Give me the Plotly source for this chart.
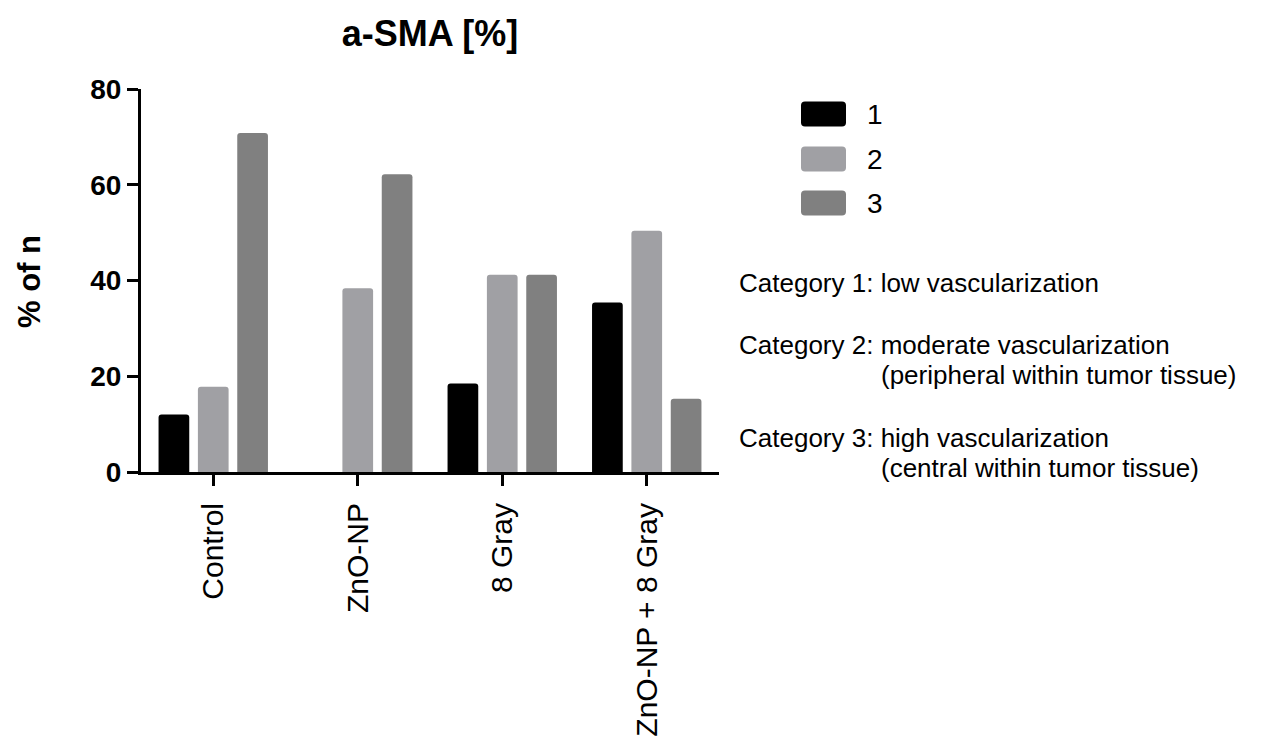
import plotly.graph_objects as go

# Treatment groups and percentage of samples per vascularization category
groups = ["Control", "ZnO-NP", "8 Gray", "ZnO-NP + 8 Gray"]
category_names = ["1", "2", "3"]
cat1_values = [12.0, 0.0, 18.5, 35.4]
cat2_values = [17.8, 38.4, 41.2, 50.4]
cat3_values = [70.8, 62.2, 41.2, 15.3]
series_colors = ["#000000", "#A0A0A4", "#808080"]
y_ticks = [0, 20, 40, 60, 80]

category_notes = [
    ("Category 1: ", "low vascularization", None),
    ("Category 2: ", "moderate vascularization", "(peripheral within tumor tissue)"),
    ("Category 3: ", "high vascularization", "(central within tumor tissue)"),
]

W, H = 1267, 754
L, R, T, B = 141, 548, 89, 282
PW, PH = W - L - R, H - T - B
FONT = "Arial, Liberation Sans, Helvetica, sans-serif"


def px(x):
    return (x - L) / PW


def py(y):
    return (H - B - y) / PH


def rounded_box(x0, y0, x1, y1, r=4):
    X0, X1 = px(x0), px(x1)
    Y0, Y1 = py(y1), py(y0)
    rx, ry = r / PW, r / PH
    return (f"M {X0+rx},{Y0} L {X1-rx},{Y0} Q {X1},{Y0} {X1},{Y0+ry} "
            f"L {X1},{Y1-ry} Q {X1},{Y1} {X1-rx},{Y1} L {X0+rx},{Y1} "
            f"Q {X0},{Y1} {X0},{Y1-ry} L {X0},{Y0+ry} Q {X0},{Y0} {X0+rx},{Y0} Z")


fig = go.Figure()
for name, vals, col in zip(category_names, [cat1_values, cat2_values, cat3_values], series_colors):
    fig.add_trace(go.Bar(
        x=groups, y=vals, name=name,
        marker=dict(color=col, line=dict(width=0)),
        showlegend=False,
    ))

shapes = []
annotations = []

# Custom legend: rounded swatches with labels
legend_rows = [114, 159, 203]
for name, col, yc in zip(category_names, series_colors, legend_rows):
    shapes.append(dict(type="path", xref="paper", yref="paper",
                       path=rounded_box(801, yc - 12.5, 846, yc + 12.5),
                       fillcolor=col, line=dict(width=0)))
    annotations.append(dict(xref="paper", yref="paper", x=px(865), y=py(yc),
                            xanchor="left", yanchor="middle", showarrow=False,
                            text=name, font=dict(family=FONT, size=28, color="#000")))

# Category descriptions
note_rows = [(283, None), (345, 375), (438, 468)]
for (head, line1, line2), (y1, y2) in zip(category_notes, note_rows):
    annotations.append(dict(xref="paper", yref="paper", x=px(737), y=py(y1),
                            xanchor="left", yanchor="middle", showarrow=False,
                            text=head + line1, font=dict(family=FONT, size=26, color="#000")))
    if line2:
        annotations.append(dict(xref="paper", yref="paper", x=px(879), y=py(y2),
                                xanchor="left", yanchor="middle", showarrow=False,
                                text=line2, font=dict(family=FONT, size=26, color="#000")))

# Y axis title
annotations.append(dict(xref="paper", yref="paper", x=px(29), y=py(282),
                        xanchor="center", yanchor="middle", showarrow=False,
                        textangle=-90, text="<b>% of n</b>",
                        font=dict(family=FONT, size=31, color="#000")))

fig.update_layout(
    width=W, height=H,
    margin=dict(l=L, r=R, t=T, b=B, pad=0, autoexpand=False),
    paper_bgcolor="white", plot_bgcolor="white",
    barmode="group", bargap=0.183, bargroupgap=0.22,
    barcornerradius=3,
    title=dict(text="<b>a-SMA [%]</b>", x=px(430), xref="paper", xanchor="center",
               y=1 - 33 / H, yref="container", yanchor="middle",
               font=dict(family=FONT, size=36, color="#000")),
    font=dict(family=FONT, color="#000"),
    shapes=shapes,
    annotations=annotations,
    xaxis=dict(
        range=[-0.5, 3.5], showgrid=False, zeroline=False, automargin=False,
        showline=True, linecolor="#000", linewidth=3,
        ticks="outside", ticklen=11, tickwidth=3, tickcolor="#000",
        tickangle=-90, ticklabelstandoff=5,
        tickfont=dict(family=FONT, size=30, color="#000"),
    ),
    yaxis=dict(
        range=[0, 80], tickvals=y_ticks, showgrid=False, zeroline=False, automargin=False,
        showline=True, linecolor="#000", linewidth=3,
        ticks="outside", ticklen=11, tickwidth=3, tickcolor="#000",
        tickfont=dict(family=FONT, size=28, color="#000", weight="bold"),
    ),
)

fig.write_html("out.html")
